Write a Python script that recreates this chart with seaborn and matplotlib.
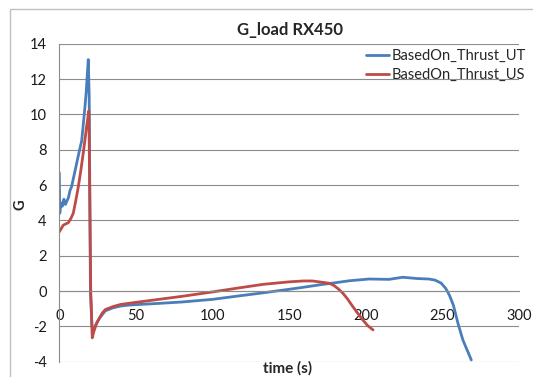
import matplotlib
matplotlib.use("Agg")
import matplotlib.pyplot as plt
from matplotlib.patches import Rectangle
import pandas as pd
import seaborn as sns

# G load over time, two estimates for the RX450 flight
ut_time = [0, 0.3, 1, 2, 3, 4, 5, 6, 7, 8, 9, 10, 11, 12, 13, 14.6, 15.5,
           16.7, 17.5, 18.3, 18.9, 19.5, 20.3, 21.3, 22, 23, 25, 27, 30, 35,
           40, 45, 50, 65, 80, 100, 115, 133, 150, 159, 172, 176, 189, 202,
           215, 224, 233, 241, 245, 249, 252, 254.5, 257, 260, 263.2, 268.7]
ut_g = [6.7, 4.4, 5.0, 4.8, 5.2, 4.9, 5.1, 5.3, 5.7, 5.9, 6.3, 6.7, 7.1,
        7.5, 7.9, 8.5, 9.3, 10.4, 11.2, 12.3, 13.1, 11.0, 0.0, -2.0, -2.3,
        -2.05, -1.7, -1.45, -1.12, -0.95, -0.85, -0.8, -0.77, -0.7, -0.62,
        -0.47, -0.3, -0.1, 0.1, 0.21, 0.38, 0.42, 0.58, 0.68, 0.66, 0.78,
        0.71, 0.68, 0.62, 0.45, 0.15, -0.25, -0.8, -1.83, -2.77, -3.9]

us_time = [0, 2.6, 5.9, 7.5, 9.1, 10.5, 12.4, 14, 15.6, 16.8, 17.8, 19.3,
           20.5, 21.5, 22.5, 24, 26, 28, 30, 35, 40, 50, 65, 80, 100, 115,
           133, 150, 159, 165, 172, 176, 179, 182, 185, 188, 191.5, 195, 198,
           201, 204.6]
us_g = [3.35, 3.73, 3.87, 4.1, 4.4, 5.0, 5.9, 6.8, 7.8, 8.6, 9.3, 10.2,
        0.0, -2.65, -2.3, -1.9, -1.55, -1.25, -1.05, -0.88, -0.76, -0.64,
        -0.47, -0.3, -0.05, 0.15, 0.38, 0.52, 0.57, 0.57, 0.49, 0.44, 0.32,
        0.12, -0.13, -0.45, -0.89, -1.3, -1.64, -1.95, -2.2]

series_names = ["BasedOn_Thrust_UT", "BasedOn_Thrust_US"]
series_colors = ["#4A7EBB", "#BE4B48"]

x_ticks = [0, 50, 100, 150, 200, 250, 300]
y_ticks = [-4, -2, 0, 2, 4, 6, 8, 10, 12, 14]

df = pd.concat([
    pd.DataFrame({"time": ut_time, "G": ut_g, "series": series_names[0]}),
    pd.DataFrame({"time": us_time, "G": us_g, "series": series_names[1]}),
], ignore_index=True)

sns.set_theme(style="white")
plt.rcParams["font.family"] = ["Lato", "DejaVu Sans"]

W, H = 533, 377
fig = plt.figure(figsize=(W / 100, H / 100), dpi=100)
ax = fig.add_axes([59.3 / W, 1 - 361.7 / H, (519.3 - 59.3) / W, (361.7 - 43.7) / H])

sns.lineplot(data=df, x="time", y="G", hue="series", sort=False,
             palette=dict(zip(series_names, series_colors)), linewidth=2.0,
             ax=ax, legend=False, estimator=None)

ax.set_xlim(0, 300)
ax.set_ylim(-4, 14)
ax.set_xticks(x_ticks)
ax.set_yticks(y_ticks)
ax.set_xticklabels([str(v) for v in x_ticks])
ax.set_yticklabels([str(v) for v in y_ticks])
ax.set_xlabel("")
ax.set_ylabel("")

grid_c = "#8C8C8C"
ax.yaxis.grid(True, color=grid_c, linewidth=0.8)
ax.xaxis.grid(False)
for side in ["top", "right"]:
    ax.spines[side].set_visible(False)
ax.spines["left"].set_color(grid_c)
ax.spines["left"].set_linewidth(0.8)
ax.spines["bottom"].set_position(("data", 0))
ax.spines["bottom"].set_color(grid_c)
ax.spines["bottom"].set_linewidth(0.8)
ax.tick_params(axis="x", length=0, pad=13, labelsize=10.5, colors="#1A1A1A")
ax.tick_params(axis="y", length=0, pad=9, labelsize=10.5, colors="#1A1A1A")
ax.set_axisbelow(True)

# legend entries
handles = [plt.Line2D([], [], color=c, linewidth=2.0) for c in series_colors]
fig.legend(handles, series_names, loc="upper left",
           bbox_to_anchor=(366 / W, 1 - 49 / H), frameon=False,
           fontsize=10.5, handlelength=1.6, handletextpad=0.15,
           labelspacing=0.35, borderpad=0, borderaxespad=0)

fig.text(290 / W, 1 - 30 / H, "G_load RX450", ha="center", va="center",
         fontsize=12, fontweight="bold")
fig.text(288 / W, 1 - 368 / H, "time (s)", ha="center", va="center",
         fontsize=11, fontweight="bold")
fig.text(20 / W, 1 - 205 / H, "G", ha="center", va="center",
         fontsize=10.5, fontweight="bold", rotation=90)

# chart frame
fig.patches.append(Rectangle((10 / W, -0.2), 2, 1.2 - 9 / H,
                             transform=fig.transFigure, fill=False,
                             edgecolor="#BFBFBF", linewidth=1.0))

fig.savefig("out.png", dpi=100)
